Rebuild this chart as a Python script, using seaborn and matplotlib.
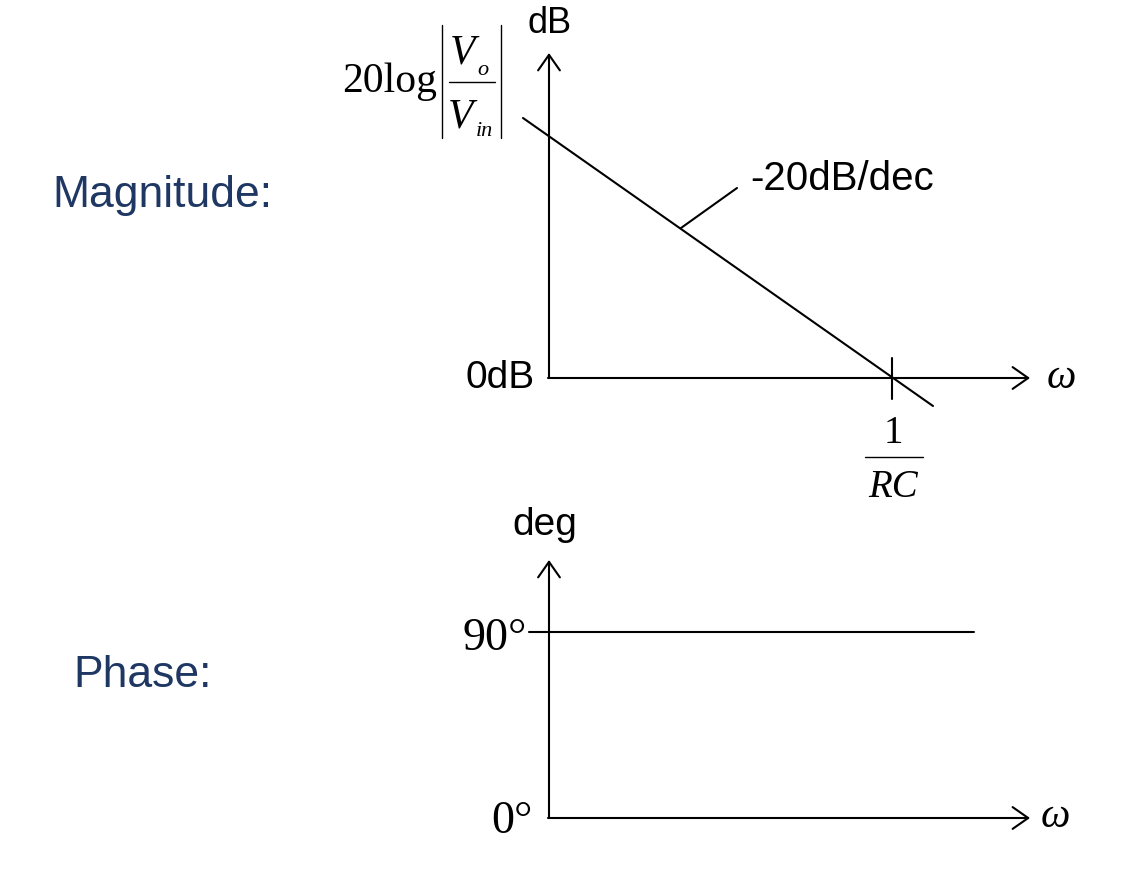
import seaborn as sns
import matplotlib.pyplot as plt

sns.set_theme(style='white')
plt.rcParams['font.family'] = ['Liberation Sans', 'DejaVu Sans']
plt.rcParams['text.color'] = 'black'

# layout is in pixel space of the 1140x876 picture (y grows downward)
# --- magnitude panel ---
mag_origin = (549, 378)
mag_top = 53
mag_right = 1030
asym_x = [523, 933]          # -20 dB/dec asymptote
asym_y = [118, 406]
corner_x = [892, 892]        # tick at 1/RC
corner_y = [358, 399]
leader_x = [681, 737]        # pointer to the slope label
leader_y = [228, 188]

# y-label 20log|Vo/Vin| pieces
abs_bar_x = [442, 501]
abs_bar_y = [25, 138]
vfrac_x = [449, 495]
vfrac_y = [82, 82]
# 1/RC label bar
rc_frac_x = [865, 923]
rc_frac_y = [457, 457]

# --- phase panel ---
ph_origin = (549, 818)
ph_top = 560
ph_right = 1030
ninety_x = [529, 974]
ninety_y = [632, 632]

navy = '#1F3763'
lw = 1.5

fig = plt.figure(figsize=(11.4, 8.76), dpi=100)
ax = fig.add_axes([0, 0, 1, 1])
ax.set_xlim(0, 1140)
ax.set_ylim(876, 0)
ax.axis('off')

arrow = dict(arrowstyle='->,head_length=0.4,head_width=0.28', lw=lw,
             color='black', mutation_scale=28, shrinkA=0, shrinkB=0)

# axes with arrowheads
for (ox, oy), top, right in [(mag_origin, mag_top, mag_right),
                             (ph_origin, ph_top, ph_right)]:
    ax.annotate('', xy=(ox, top), xytext=(ox, oy), arrowprops=arrow)
    ax.annotate('', xy=(right, oy), xytext=(ox - 1, oy), arrowprops=arrow)

for xs, ys in [(asym_x, asym_y), (corner_x, corner_y),
               (leader_x, leader_y), (ninety_x, ninety_y)]:
    sns.lineplot(x=xs, y=ys, ax=ax, color='black', linewidth=lw,
                 estimator=None, sort=False)

# thin rules of the fraction labels
for bx in abs_bar_x:
    sns.lineplot(x=[bx, bx], y=abs_bar_y, ax=ax, color='black',
                 linewidth=1.0, estimator=None, sort=False)
for xs, ys in [(vfrac_x, vfrac_y), (rc_frac_x, rc_frac_y)]:
    sns.lineplot(x=xs, y=ys, ax=ax, color='black', linewidth=1.0,
                 estimator=None, sort=False)

serif = 'Liberation Serif'

# magnitude texts
ax.text(550, 33, 'dB', fontsize=26, ha='center', va='baseline')
ax.text(437, 92, '20log', fontsize=30, family=serif, ha='right',
        va='baseline')
ax.text(450, 63, 'V', fontsize=30, family=serif, style='italic',
        ha='left', va='baseline')
ax.text(477, 75, 'o', fontsize=16, family=serif, style='italic',
        ha='left', va='baseline')
ax.text(448, 128, 'V', fontsize=30, family=serif, style='italic',
        ha='left', va='baseline')
ax.text(476, 136, 'in', fontsize=16, family=serif, style='italic',
        ha='left', va='baseline')
ax.text(535, 388, '0dB', fontsize=28, ha='right', va='baseline')
ax.text(750, 190, '-20dB/dec', fontsize=29, ha='left', va='baseline')
ax.text(893, 443, '1', fontsize=28, family=serif, ha='center',
        va='baseline')
ax.text(893, 497, 'RC', fontsize=28, family=serif, style='italic',
        ha='center', va='baseline')
ax.text(1061, 378, 'ω', fontsize=30, family=serif, style='italic',
        ha='center', va='center')
ax.text(52, 207, 'Magnitude:', fontsize=32, color=navy, ha='left',
        va='baseline')

# phase texts
ax.text(545, 535, 'deg', fontsize=28, ha='center', va='baseline')
ax.text(527, 650, '90°', fontsize=33, family=serif, ha='right',
        va='baseline')
ax.text(533, 833, '0°', fontsize=33, family=serif, ha='right',
        va='baseline')
ax.text(1055, 817, 'ω', fontsize=30, family=serif, style='italic',
        ha='center', va='center')
ax.text(73, 687, 'Phase:', fontsize=32, color=navy, ha='left', va='baseline')

fig.savefig('out.png', dpi=100, facecolor='white')
